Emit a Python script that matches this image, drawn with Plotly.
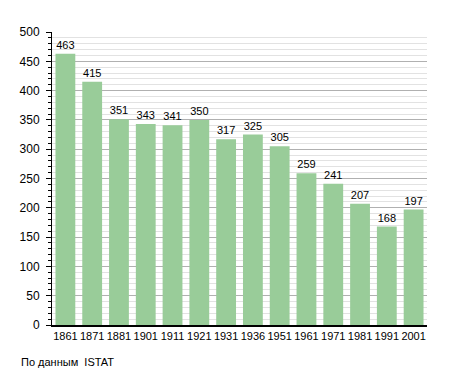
import plotly.graph_objects as go

years = ["1861", "1871", "1881", "1901", "1911", "1921", "1931", "1936", "1951", "1961", "1971", "1981", "1991", "2001"]
population = [463, 415, 351, 343, 341, 350, 317, 325, 305, 259, 241, 207, 168, 197]
y_ticks = [0, 50, 100, 150, 200, 250, 300, 350, 400, 450, 500]

# page body has an 8px margin; size figure so the plot lands at the reference pixels
W, H = 447, 365
L, R, T, B = 41, 28, 24, 48
plot_w = W - L - R
plot_h = H - T - B

fig = go.Figure()
fig.add_trace(go.Bar(
    x=years, y=population,
    marker=dict(color="#99cc99", line=dict(width=0)),
    text=[str(v) for v in population], textposition="outside",
    textfont=dict(color="#000000", size=11),
    cliponaxis=False, width=0.74,
))
fig.update_layout(
    width=W, height=H,
    margin=dict(l=L, r=R, t=T, b=B),
    paper_bgcolor="white", plot_bgcolor="white",
    font=dict(family="Liberation Sans, Arial, sans-serif", size=12, color="#000000"),
    showlegend=False,
    xaxis=dict(type="category", showline=True, linecolor="black", linewidth=2,
               ticks="", showgrid=False, tickangle=0, tickfont=dict(size=11),
               ticklabelstandoff=0),
    yaxis=dict(range=[0, 500], tickvals=y_ticks, showline=True, linecolor="black", linewidth=1,
               ticks="outside", ticklen=5, tickcolor="black", ticklabelstandoff=4,
               showgrid=True, gridcolor="#b0b0b0", gridwidth=1, zeroline=False,
               minor=dict(dtick=10, showgrid=True, gridcolor="#e2e2e2", ticks="outside",
                          ticklen=3, tickcolor="black"),
               tickfont=dict(size=12)),
    annotations=[dict(text="По данным  ISTAT", x=(8 - L) / plot_w, y=(H - B - 354) / plot_h,
                      xref="paper", yref="paper",
                      xanchor="left", yanchor="middle", showarrow=False,
                      font=dict(size=11))],
)
fig.write_html("out.html")
